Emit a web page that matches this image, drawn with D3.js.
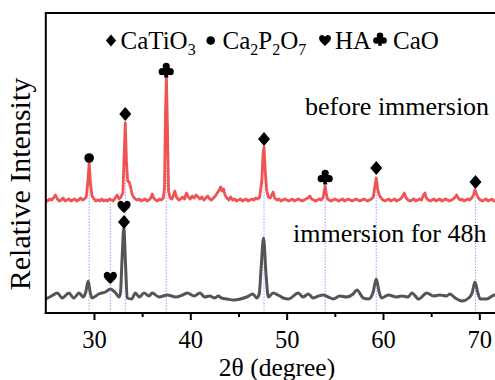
<!DOCTYPE html>
<html><head><meta charset="utf-8">
<script src="https://cdn.jsdelivr.net/npm/d3@7"></script>
<style>html,body{margin:0;padding:0;background:#fff;}
svg text{font-family:"Liberation Serif","Tinos","Times New Roman",Times,"DejaVu Serif",serif;}</style>
</head><body>
<svg id="chart" width="495" height="380"></svg>
<script>
// ---------- data ----------
const xTicks = [30, 40, 50, 60, 70];
const xMinorTicks = [35, 45, 55, 65];
const xLabel = "2θ (degree)";
const yLabel = "Relative Intensity";
const curveLabels = ["before immersion", "immersion for 48h"];

// before immersion (red) : [2θ, intensity]
const redSeries = [
[25.0,113],[25.2,112],[25.4,114],[25.6,113],[25.8,115],[26.0,118],[26.2,114],[26.4,112],[26.6,113],[26.8,115],
[27.0,112],[27.2,113],[27.4,114],[27.6,112],[27.8,113],[28.0,114],[28.2,112],[28.4,113],[28.6,115],[28.8,113],
[29.0,114],[29.2,116],[29.35,130],[29.5,150],[29.65,128],[29.8,117],[30.0,114],[30.2,112],[30.4,113],[30.6,112],
[30.8,114],[31.0,112],[31.2,113],[31.4,112],[31.6,114],[31.8,113],[32.0,112],[32.2,115],[32.4,118],[32.6,114],
[32.8,116],[33.0,120],[33.12,155],[33.25,190],[33.38,150],[33.5,132],[33.65,131],[33.8,126],[33.95,119],[34.1,116],
[34.3,114],[34.5,113],[34.7,114],[34.9,112],[35.1,113],[35.3,114],[35.5,112],[35.7,113],[35.9,115],[36.05,119],
[36.2,115],[36.4,113],[36.6,112],[36.8,114],[37.0,113],[37.2,115],[37.32,125],[37.42,200],[37.52,236],[37.62,190],
[37.74,122],[37.9,115],[38.1,114],[38.25,118],[38.4,122],[38.55,116],[38.8,113],[39.0,114],[39.2,116],[39.4,114],
[39.6,120],[39.8,116],[40.0,114],[40.2,117],[40.4,115],[40.6,118],[40.8,116],[41.0,114],[41.2,116],[41.4,113],
[41.6,115],[41.8,117],[42.0,114],[42.2,113],[42.4,115],[42.6,117],[42.8,120],[43.0,123],[43.15,126],[43.3,122],
[43.45,124],[43.6,118],[43.8,115],[44.0,113],[44.2,116],[44.4,113],[44.6,114],[44.8,112],[45.0,113],[45.2,114],
[45.4,112],[45.6,113],[45.8,114],[46.0,112],[46.2,113],[46.4,114],[46.6,113],[46.8,115],[47.0,114],[47.2,116],
[47.42,132],[47.55,160],[47.65,166],[47.78,142],[47.92,123],[48.1,116],[48.3,115],[48.45,118],[48.6,121],[48.75,115],
[49.0,113],[49.2,114],[49.4,112],[49.6,113],[49.8,114],[50.0,113],[50.2,112],[50.4,113],[50.6,114],[50.8,112],
[51.0,113],[51.2,114],[51.4,113],[51.6,112],[51.8,113],[52.0,114],[52.2,115],[52.4,117],[52.6,114],[52.8,113],
[53.0,112],[53.2,113],[53.4,114],[53.6,113],[53.8,116],[53.9,122],[54.0,127],[54.1,120],[54.25,114],[54.4,113],
[54.6,112],[54.8,113],[55.0,114],[55.2,113],[55.4,112],[55.6,113],[55.8,114],[56.0,112],[56.2,113],[56.4,114],
[56.6,113],[56.8,112],[57.0,113],[57.2,114],[57.4,113],[57.6,112],[57.8,113],[58.0,114],[58.2,113],[58.4,112],
[58.6,113],[58.8,114],[59.0,116],[59.15,126],[59.3,135],[59.45,124],[59.6,118],[59.8,115],[60.0,113],[60.2,112],
[60.4,113],[60.6,114],[60.8,112],[61.0,113],[61.2,114],[61.4,112],[61.6,113],[61.8,114],[62.0,116],[62.2,120],
[62.4,115],[62.6,113],[62.8,112],[63.0,113],[63.2,114],[63.4,112],[63.6,113],[63.8,114],[64.0,113],[64.2,118],
[64.35,120],[64.5,115],[64.7,113],[64.9,112],[65.1,113],[65.3,114],[65.5,112],[65.7,113],[65.9,114],[66.1,112],
[66.3,113],[66.5,114],[66.7,113],[66.9,112],[67.1,113],[67.3,114],[67.5,116],[67.65,118],[67.8,115],[68.0,113],
[68.2,114],[68.4,112],[68.6,113],[68.8,114],[69.0,113],[69.2,115],[69.4,118],[69.55,123],[69.7,119],[69.9,115],
[70.1,113],[70.3,112],[70.5,113],[70.7,114],[70.9,112],[71.1,113],[71.3,114],[71.5,112],[71.7,113],[72.0,114]
];

// immersion for 48h (gray) : [2θ, intensity]
const graySeries = [
[25.0,14],[25.6,17],[26.2,20],[26.7,15],[27.4,20],[27.9,15],[28.45,20],[28.9,16],[29.15,21],[29.4,32],
[29.6,21],[29.8,15],[30.5,19],[31.2,21],[31.7,24],[32.25,20],[32.6,16],[32.75,20],[32.92,55],[33.1,85],
[33.28,48],[33.45,15],[33.9,14],[34.3,20],[34.7,16],[35.2,20],[35.7,17],[36.05,20],[36.75,16],[37.6,18],
[38.5,16],[39.2,18],[39.7,20],[40.4,17],[41.0,20],[41.5,16],[42.0,17],[42.55,15],[42.9,17],[43.25,15],
[43.8,14],[44.5,13],[45.2,14],[45.85,16],[46.5,19],[46.9,15],[47.15,19],[47.35,45],[47.6,75],[47.85,40],
[48.1,16],[48.6,20],[49.1,18],[49.65,15],[50.2,14],[51.2,20],[51.7,16],[52.25,19],[52.75,15],[53.3,17],
[53.8,18],[54.3,16],[54.85,14],[55.5,17],[56.2,16],[56.9,19],[57.3,23],[57.95,15],[58.5,14],[58.95,20],
[59.3,34],[59.6,21],[59.85,15],[60.55,18],[61.4,16],[61.95,17],[62.6,16],[63.0,20],[63.7,14],[64.55,20],
[65.25,17],[65.9,18],[66.6,17],[66.95,19],[67.5,15],[68.2,12],[68.9,15],[69.25,20],[69.55,31],[69.85,20],
[70.1,14],[70.75,14],[71.6,18],[72.0,17]
];

// reference (dotted) lines: 2θ and upper intensity
const refTheta = [29.5, 31.7, 33.25, 37.5, 47.65, 54.0, 59.3, 69.6];
const refTop   = [147, 110, 173, 188, 146, 125, 127, 115];

// phase markers
const markerTheta = [29.5, 33.25, 37.5, 47.65, 54.0, 59.3, 69.6, 31.7, 33.12, 33.12];
const markerType  = ["circle","diamond","club","diamond","club","diamond","diamond","heart","heart","diamond"];
const markerLevel = [155, 199, 243, 174, 136, 145, 131, 35, 106, 91];

// legend
const legendTypes = ["diamond","circle","heart","club"];
const legendNames = [["CaTiO",["3"]],["Ca",["2"],"P",["2"],"O",["7"]],["HA"],["CaO"]];

// ---------- drawing ----------
const svg = d3.select("#chart");
const x = d3.scaleLinear().domain([25, 72]).range([45.8, 498.6]);
const y = d3.scaleLinear().domain([0, 300]).range([313, 13]);

// reference lines
svg.append("g").selectAll("line").data(refTheta).join("line")
  .attr("x1", d => x(d)).attr("x2", d => x(d))
  .attr("y1", y(0)).attr("y2", (d, i) => y(refTop[i]))
  .attr("stroke", "#7a7aff").attr("stroke-width", 1).attr("stroke-dasharray", "1.5,1.5").attr("opacity", 0.75);

svg.append("path")
  .attr("d", d3.line().x(d => x(d[0])).y(d => y(d[1])).curve(d3.curveMonotoneX)(graySeries))
  .attr("fill", "none").attr("stroke", "#555555").attr("stroke-width", 3).attr("stroke-linejoin", "round");
svg.append("path")
  .attr("d", d3.line().x(d => x(d[0])).y(d => y(d[1]))(redSeries))
  .attr("fill", "none").attr("stroke", "#ef4040").attr("stroke-opacity", 0.9).attr("stroke-width", 2.8).attr("stroke-linejoin", "round");

// axes frame
const axisG = svg.append("g");
axisG.append("line").attr("x1", x(25)).attr("x2", x(25)).attr("y1", y(300)).attr("y2", y(0)+1)
  .attr("stroke", "#000").attr("stroke-width", 2);
axisG.append("line").attr("x1", x(25)-1).attr("x2", 495).attr("y1", y(0)).attr("y2", y(0))
  .attr("stroke", "#000").attr("stroke-width", 2);
axisG.append("line").attr("x1", x(25)-1).attr("x2", 495).attr("y1", y(300)).attr("y2", y(300))
  .attr("stroke", "#000").attr("stroke-width", 2);

const xAxis = d3.axisBottom(x).tickValues(xTicks).tickSize(7).tickFormat(d3.format("d"));
const gx = svg.append("g").attr("transform", `translate(0,${y(0)})`).call(xAxis);
gx.attr("font-family", null).attr("font-size", null);
gx.select(".domain").remove();
gx.selectAll(".tick line").attr("stroke", "#000").attr("stroke-width", 2);
gx.selectAll(".tick text").attr("font-size", 24.5)
  .attr("fill", "#000").attr("dy", null).attr("y", 35);
const gxm = svg.append("g").attr("transform", `translate(0,${y(0)})`)
  .call(d3.axisBottom(x).tickValues(xMinorTicks).tickSize(4).tickFormat(""));
gxm.select(".domain").remove();
gxm.selectAll(".tick line").attr("stroke", "#000").attr("stroke-width", 2);

// axis labels
svg.append("text").attr("x", 277).attr("y", 375.5).attr("text-anchor", "middle")
  .attr("font-size", 25.5).text(xLabel);
svg.append("text").attr("transform", "translate(30,184) rotate(-90)").attr("text-anchor", "middle")
  .attr("font-size", 30).text(yLabel);

// curve labels
svg.append("text").attr("x", 305).attr("y", 115).attr("font-size", 26).text(curveLabels[0]);
svg.append("text").attr("x", 293).attr("y", 242).attr("font-size", 26).text(curveLabels[1]);

// marker shapes (all sub-paths clockwise so nonzero fill has no holes)
function circ(cx, cy, r) {
  return `M${cx-r},${cy}a${r},${r} 0 1,1 ${2*r},0a${r},${r} 0 1,1 ${-2*r},0Z`;
}
function clubPath(s) {
  const r = 3.6*s;
  let p = circ(0, -3.7*s, r) + circ(-4*s, 1.7*s, r) + circ(4*s, 1.7*s, r);
  p += `M${-0.9*s},0L${0.9*s},0L${2.2*s},${7.6*s}L${-2.2*s},${7.6*s}Z`;
  p += `M${-2.3*s},${-1.2*s}L${2.3*s},${-1.2*s}L${2.3*s},${2.2*s}L${-2.3*s},${2.2*s}Z`;
  return p;
}
function shapePath(type, s) {
  if (type === "diamond") return `M0,${-7*s}L${6*s},0L0,${7*s}L${-6*s},0Z`;
  if (type === "circle") return circ(0, 0, 4.8*s);
  if (type === "heart") return `M0,${6*s}C${-3*s},${3*s} ${-6.6*s},${0.3*s} ${-6.6*s},${-2.6*s}C${-6.6*s},${-5*s} ${-4.8*s},${-6.2*s} ${-3.3*s},${-6.2*s}C${-1.6*s},${-6.2*s} ${-0.5*s},${-5.1*s} 0,${-3.8*s}C${0.5*s},${-5.1*s} ${1.6*s},${-6.2*s} ${3.3*s},${-6.2*s}C${4.8*s},${-6.2*s} ${6.6*s},${-5*s} ${6.6*s},${-2.6*s}C${6.6*s},${0.3*s} ${3*s},${3*s} 0,${6*s}Z`;
  if (type === "club") return clubPath(s);
}
svg.append("g").selectAll("path").data(markerTheta).join("path")
  .attr("transform", (d, i) => `translate(${x(d)},${y(markerLevel[i])})`)
  .attr("d", (d, i) => shapePath(markerType[i], 1)).attr("fill", "#000").attr("fill-rule", "nonzero");

// legend
const legendMarkX = [111, 210.7, 325, 380];
const legendTextX = [120.5, 222.5, 335, 393];
const lg = svg.append("g");
legendTypes.forEach((t, i) => {
  lg.append("path").attr("transform", `translate(${legendMarkX[i]},${t === "club" ? 39 : 40.5})`)
    .attr("d", shapePath(t, t === "diamond" ? 0.85 : 0.9)).attr("fill", "#000");
  const tx = lg.append("text").attr("x", legendTextX[i]).attr("y", 49).attr("font-size", 25);
  let shifted = false;
  legendNames[i].forEach(part => {
    if (Array.isArray(part)) {
      tx.append("tspan").attr("font-size", 16).attr("dy", 6).text(part[0]);
      shifted = true;
    } else {
      tx.append("tspan").attr("dy", shifted ? -6 : null).text(part);
      shifted = false;
    }
  });
});
</script>
</body></html>
